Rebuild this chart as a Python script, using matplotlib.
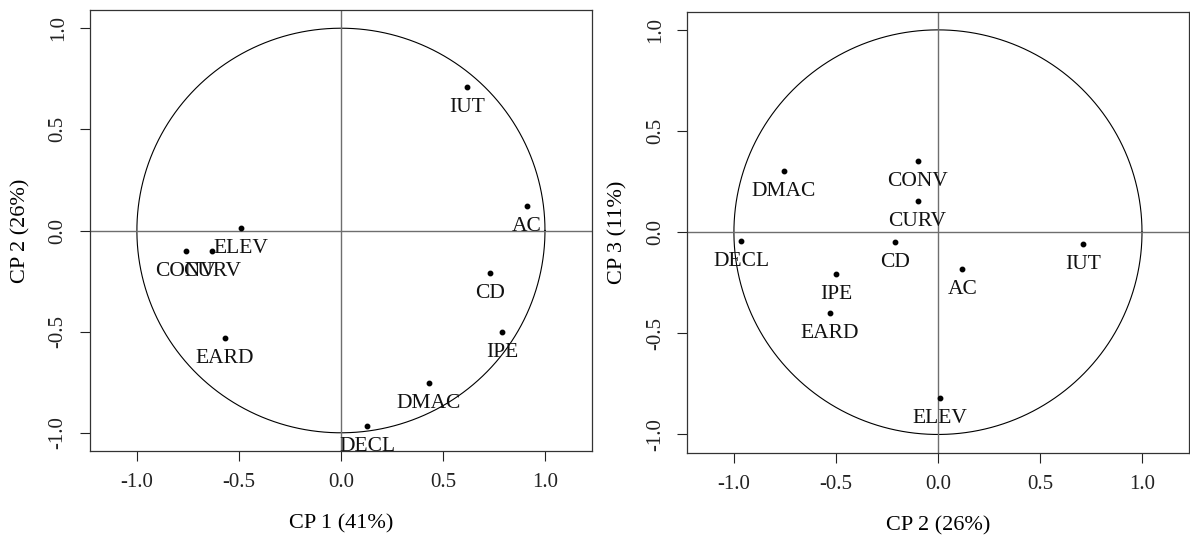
import numpy as np
import matplotlib
matplotlib.use("Agg")
import matplotlib.pyplot as plt

# correlations of the variables with the principal components
labels = ["IUT", "AC", "CD", "IPE", "DMAC", "DECL", "ELEV", "CONV", "CURV", "EARD"]
cp1 = [0.62, 0.91, 0.73, 0.79, 0.43, 0.13, -0.49, -0.76, -0.63, -0.57]
cp2 = [0.71, 0.12, -0.21, -0.50, -0.755, -0.965, 0.01, -0.10, -0.10, -0.53]
cp3 = [-0.06, -0.18, -0.05, -0.205, 0.30, -0.045, -0.82, 0.35, 0.155, -0.40]

ticks = [-1.0, -0.5, 0.0, 0.5, 1.0]
tick_labels = ["-1.0", "-0.5", "0.0", "0.5", "1.0"]

plt.rcParams['font.family'] = ['Liberation Serif', 'DejaVu Serif']
plt.rcParams['axes.unicode_minus'] = False


def circle_plot(ax, xs, ys, xlabel, ylabel):
    t = np.linspace(0, 2 * np.pi, 400)
    ax.plot(np.cos(t), np.sin(t), color='black', lw=0.8)   # cercle des correlations
    ax.axhline(0, color='#6e6e6e', lw=1.0)
    ax.axvline(0, color='#6e6e6e', lw=1.0)
    ax.plot(xs, ys, 'o', color='black', markersize=3.2)
    for x, y, name in zip(xs, ys, labels):
        ax.annotate(name, (x, y), xytext=(0, -25), textcoords='offset pixels',
                    ha='center', va='baseline', fontsize=15.5, color='#111111')
    ax.set_xlim(-1.23, 1.23)
    ax.set_ylim(-1.09, 1.09)
    ax.set_xticks(ticks)
    ax.set_xticklabels(tick_labels)
    ax.set_yticks(ticks)
    ax.set_yticklabels(tick_labels, rotation=90, va='center')
    ax.tick_params(direction='out', length=7, width=0.8, labelsize=15, pad=9, colors='#222222')
    ax.set_xlabel(xlabel, fontsize=16, labelpad=16)
    ax.set_ylabel(ylabel, fontsize=16, labelpad=13)
    for s in ax.spines.values():
        s.set_linewidth(0.9)
        s.set_color('#333333')


fig = plt.figure(figsize=(11.9, 5.38), dpi=100)
ax1 = fig.add_axes([0.0756, 0.1617, 0.4218, 0.8197])
ax2 = fig.add_axes([0.5773, 0.1586, 0.4218, 0.8197])

circle_plot(ax1, cp1, cp2, "CP 1 (41%)", "CP 2 (26%)")
circle_plot(ax2, cp2, cp3, "CP 2 (26%)", "CP 3 (11%)")

fig.savefig("out.png", dpi=100)
